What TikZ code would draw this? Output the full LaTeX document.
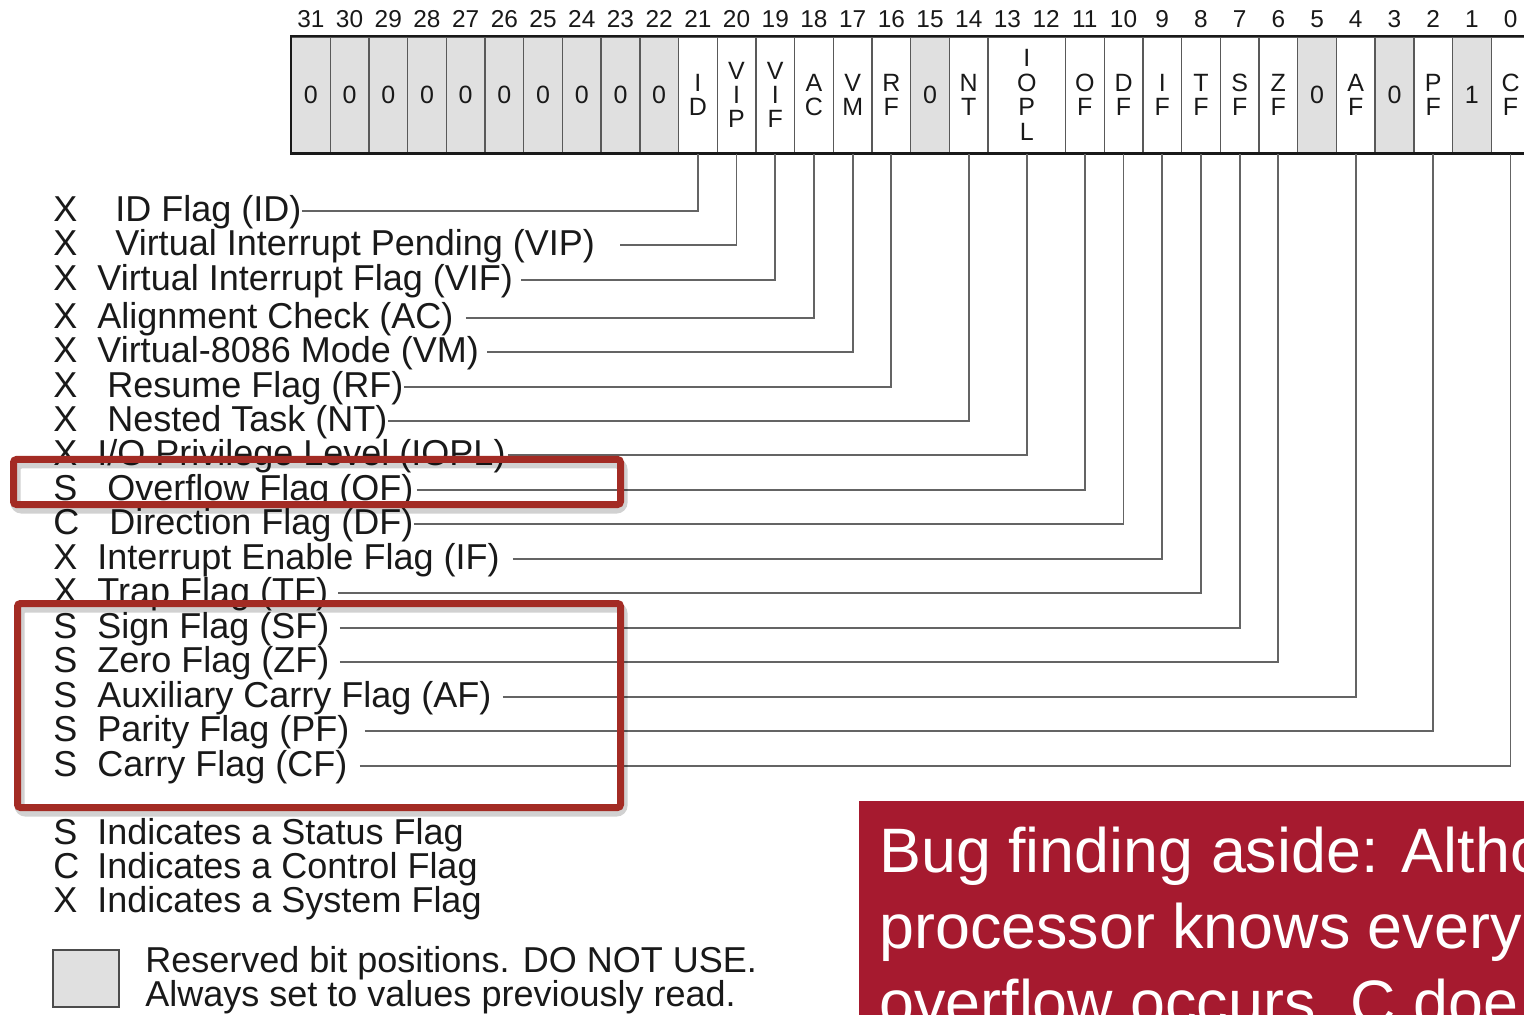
\documentclass[tikz,border=0pt]{standalone}
\usepackage{fontspec}
\setmainfont{Liberation Sans}
\definecolor{boxred}{RGB}{163,43,36}
\definecolor{callred}{RGB}{166,26,47}
\definecolor{resgrey}{RGB}{224,224,224}
\definecolor{leadgrey}{RGB}{100,100,100}
\definecolor{ink}{RGB}{25,25,25}
\begin{document}
\begin{tikzpicture}[x=0.5pt,y=-0.5pt,
  cell/.style={draw=gray!70!black, line width=0.7pt, minimum width=19.35pt, minimum height=58pt, inner sep=0pt, align=center, font=\fontsize{12.5}{12.2}\selectfont, text=ink},
  rescell/.style={cell, fill=resgrey},
  bitnum/.style={inner sep=0pt, font=\fontsize{12.2}{12}\selectfont, text=ink},
  lbl/.style={anchor=west, inner sep=0pt, text height=13.5pt, text depth=2.6pt, font=\fontsize{18}{18}\selectfont, text=ink},
  lead/.style={draw=leadgrey, line width=0.9pt},
  hl/.style={draw=boxred, line width=3.5pt, rounded corners=1.5pt},
  hlshadow/.style={draw=black, opacity=0.18, line width=5pt, rounded corners=3pt},
  call/.style={anchor=base west, inner sep=0pt, text=white, font=\fontsize{31.4}{38}\selectfont},
]
\useasboundingbox (0,0) rectangle (1524,1015);
\clip (0,0) rectangle (1524,1015);
\fill[white] (0,0) rectangle (1524,1015);

% register cells
\foreach \b in {31,30,...,22}
  \node[rescell] (c\b) at ({310.85+(31-\b)*38.7},95) {0};
\foreach \b/\t in {21/{I\\D},20/{V\\I\\P},19/{V\\I\\F},18/{A\\C},17/{V\\M},16/{R\\F},14/{N\\T},11/{O\\F},10/{D\\F},9/{I\\F},8/{T\\F},7/{S\\F},6/{Z\\F},4/{A\\F},2/{P\\F},0/{C\\F}}
  \node[cell] (c\b) at ({310.85+(31-\b)*38.7},95) {\t};
\foreach \b/\t in {15/0,5/0,3/0,1/1}
  \node[rescell] (c\b) at ({310.85+(31-\b)*38.7},95) {\t};
\node[cell, minimum width=38.7pt] (cIOPL) at (1026.8,95) {I\\O\\P\\L};
\draw[ink, line width=1pt] (c31.north west) rectangle (c0.south east);
\draw[ink, line width=1.4pt] (c31.south west) -- (c0.south east);

% bit numbers
\foreach \b in {0,...,31}
  \node[bitnum] (n\b) at ({310.85+(31-\b)*38.7},19) {\b};

% labels
\node[lbl] (xID)   at (53,211) {X}; \node[lbl] (lID)   at (115,211) {ID Flag (ID)};
\node[lbl] (xVIP)  at (53,245) {X}; \node[lbl] (lVIP)  at (115,245) {Virtual Interrupt Pending (VIP)};
\node[lbl] (xVIF)  at (53,280) {X}; \node[lbl] (lVIF)  at (97,280)  {Virtual Interrupt Flag (VIF)};
\node[lbl] (xAC)   at (53,318) {X}; \node[lbl] (lAC)   at (97,318)  {Alignment Check (AC)};
\node[lbl] (xVM)   at (53,352) {X}; \node[lbl] (lVM)   at (97,352)  {Virtual-8086 Mode (VM)};
\node[lbl] (xRF)   at (53,387) {X}; \node[lbl] (lRF)   at (107,387) {Resume Flag (RF)};
\node[lbl] (xNT)   at (53,421) {X}; \node[lbl] (lNT)   at (107,421) {Nested Task (NT)};
\node[lbl] (xIOPL) at (53,455) {X}; \node[lbl] (lIOPL) at (97,455)  {I/O Privilege Level (IOPL)};
\node[lbl] (xOF)   at (53,490) {S}; \node[lbl] (lOF)   at (107,490) {Overflow Flag (OF)};
\node[lbl] (xDF)   at (53,524) {C}; \node[lbl] (lDF)   at (109,524) {Direction Flag (DF)};
\node[lbl] (xIF)   at (53,559) {X}; \node[lbl] (lIF)   at (97,559)  {Interrupt Enable Flag (IF)};
\node[lbl] (xTF)   at (53,593) {X}; \node[lbl] (lTF)   at (97,593)  {Trap Flag (TF)};
\node[lbl] (xSF)   at (53,628) {S}; \node[lbl] (lSF)   at (97,628)  {Sign Flag (SF)};
\node[lbl] (xZF)   at (53,662) {S}; \node[lbl] (lZF)   at (97,662)  {Zero Flag (ZF)};
\node[lbl] (xAF)   at (53,697) {S}; \node[lbl] (lAF)   at (97,697)  {Auxiliary Carry Flag (AF)};
\node[lbl] (xPF)   at (53,731) {S}; \node[lbl] (lPF)   at (97,731)  {Parity Flag (PF)};
\node[lbl] (xCF)   at (53,766) {S}; \node[lbl] (lCF)   at (97,766)  {Carry Flag (CF)};

% leaders
\draw[lead] (lID.east) -| (c21.south);
\draw[lead] ([xshift=12.5pt]lVIP.east) -| (c20.south);
\draw[lead] ([xshift=4pt]lVIF.east) -| (c19.south);
\draw[lead] ([xshift=6pt]lAC.east) -| (c18.south);
\draw[lead] ([xshift=4pt]lVM.east) -| (c17.south);
\draw[lead] (lRF.east) -| (c16.south);
\draw[lead] (lNT.east) -| (c14.south);
\draw[lead] ([xshift=1pt]lIOPL.east) -| (cIOPL.south);
\draw[lead] ([xshift=1.5pt]lOF.east) -| (c11.south);
\draw[lead] (lDF.east) -| (c10.south);
\draw[lead] ([xshift=6.5pt]lIF.east) -| (c9.south);
\draw[lead] ([xshift=5pt]lTF.east) -| (c8.south);
\draw[lead] ([xshift=5pt]lSF.east) -| (c7.south);
\draw[lead] ([xshift=5pt]lZF.east) -| (c6.south);
\draw[lead] ([xshift=5.5pt]lAF.east) -| (c4.south);
\draw[lead] ([xshift=7.5pt]lPF.east) -| (c2.south);
\draw[lead] ([xshift=6pt]lCF.east) -| (c0.south);

% highlight boxes
\draw[hlshadow] (15.5,463.5) rectangle (622.5,508.5);
\draw[hlshadow] (19.5,607.5) rectangle (622.5,811.5);
\draw[hl] (13.5,459.5) rectangle (620.5,504.5);
\draw[hl] (17.5,603.5) rectangle (620.5,807.5);

% legend
\node[lbl] (xS) at (53,834) {S}; \node[lbl] (lS) at (97,834) {Indicates a Status Flag};
\node[lbl] (xC) at (53,868) {C}; \node[lbl] (lC) at (97,868) {Indicates a Control Flag};
\node[lbl] (xX) at (53,902) {X}; \node[lbl] (lX) at (97,902) {Indicates a System Flag};
\node[draw=gray!60!black, fill=resgrey, line width=0.8pt, minimum width=33pt, minimum height=28.5pt, inner sep=0pt] (rbox) at (86,978.5) {};
\node[lbl] (r1) at (145,962) {Reserved bit positions. DO NOT USE.};
\node[lbl] (r2) at (145,996) {Always set to values previously read.};

% callout
\fill[callred] (859,801) rectangle (1530,1020);
\node[call] (t1) at (879,872) {Bug finding aside: Altho};
\node[call] (t2) at (879,948) {processor knows every};
\node[call] (t3) at (879,1024) {overflow occurs, C doe};
\end{tikzpicture}
\end{document}
